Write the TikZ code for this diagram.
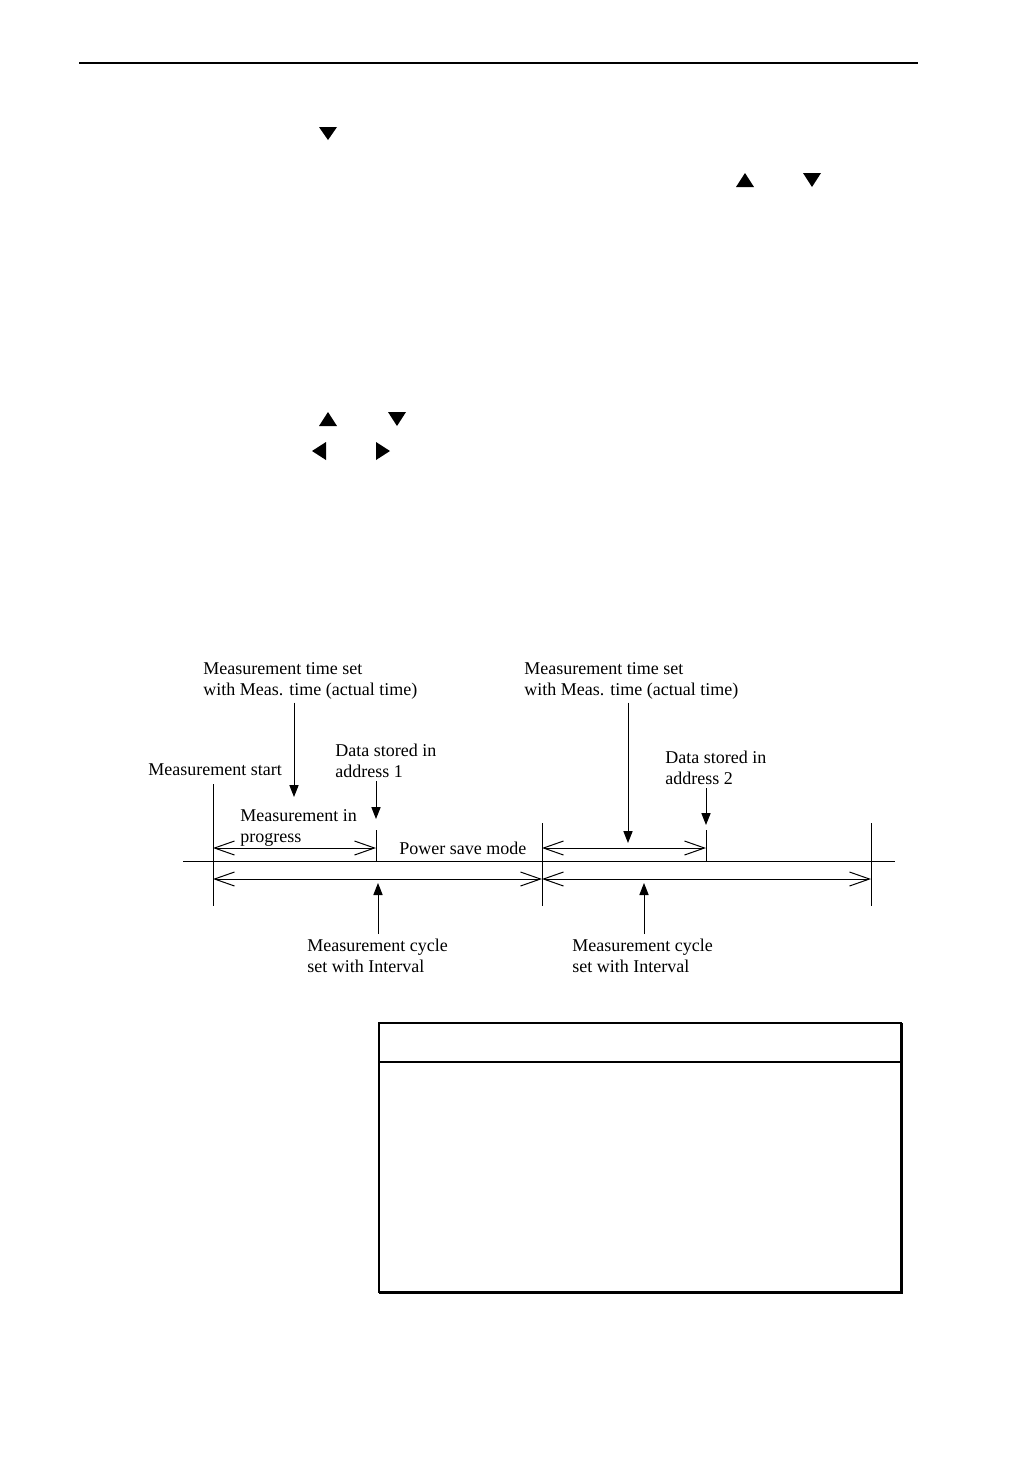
\documentclass[tikz,border=0pt]{standalone}
\usepackage{fontspec}
\setmainfont{Liberation Serif}
\usetikzlibrary{arrows.meta}

\tikzset{
  lbl/.style={anchor=north west, inner sep=0pt, align=left, font=\fontsize{9}{10.5}\selectfont},
  pointer/.style={-{Triangle[length=6pt,width=4.6pt]}, line width=0.5pt},
  span/.style={{Straight Barb[length=10pt,width=7pt]}-{Straight Barb[length=10pt,width=7pt]}, line width=0.5pt},
  thinline/.style={line width=0.5pt},
}

\begin{document}
\begin{tikzpicture}[x=0.5pt,y=-0.5pt]
\useasboundingbox (0,0) rectangle (1032,1458);

% kopregel
\draw[line width=1pt] (79,63) -- (918,63);

% toetssymbolen
\fill (328,133) ++(-9,-6) -- ++(18,0) -- ++(-9,13) -- cycle;
\fill (745,180) ++(-9,7) -- ++(18,0) -- ++(-9,-14) -- cycle;
\fill (812,180) ++(-9,-7) -- ++(18,0) -- ++(-9,14) -- cycle;
\fill (328,419) ++(-9,7) -- ++(18,0) -- ++(-9,-14) -- cycle;
\fill (397,419) ++(-9,-7) -- ++(18,0) -- ++(-9,14) -- cycle;
\fill (319,451) ++(7,-9) -- ++(0,18) -- ++(-14,-9) -- cycle;
\fill (383,451) ++(-7,-9) -- ++(0,18) -- ++(14,-9) -- cycle;

% tijdas
\coordinate (axL) at (183,861);
\coordinate (axR) at (895,861);
\draw[thinline] (axL) -- (axR);

% cyclusgrenzen
\coordinate (s0top) at (213,784);
\coordinate (s0bot) at (213,906);
\coordinate (s1top) at (542,823);
\coordinate (s1bot) at (542,906);
\coordinate (s2top) at (871,823);
\coordinate (s2bot) at (871,906);
\draw[thinline] (s0top) -- (s0bot);
\draw[thinline] (s1top) -- (s1bot);
\draw[thinline] (s2top) -- (s2bot);

% einde meting
\coordinate (m1top) at (376,830);
\coordinate (m1bot) at (376,861);
\coordinate (m2top) at (706,830);
\coordinate (m2bot) at (706,861);
\draw[thinline] (m1top) -- (m1bot);
\draw[thinline] (m2top) -- (m2bot);

% meettijd en interval
\draw[span] (213,848) -- (376,848);
\draw[span] (542,848) -- (706,848);
\draw[span] (213,879) -- (542,879);
\draw[span] (542,879) -- (871,879);

% teksten
\node[lbl] (meastime1) at (203,662) {Measurement time set\\with Meas. time (actual time)};
\node[lbl] (meastime2) at (524,662) {Measurement time set\\with Meas. time (actual time)};
\node[lbl] (stored1) at (335,744) {Data stored in\\address 1};
\node[lbl] (stored2) at (665,751) {Data stored in\\address 2};
\node[lbl] (start) at (148,763) {Measurement start};
\node[lbl] (inprog) at (240,809) {Measurement in\\progress};
\node[lbl] (powersave) at (399,842) {Power save mode};
\node[lbl] (cycle1) at (307,939) {Measurement cycle\\set with Interval};
\node[lbl] (cycle2) at (572,939) {Measurement cycle\\set with Interval};

% wijzers
\coordinate (t1tip) at (294,797);
\coordinate (d1tip) at (376,819);
\coordinate (t2tip) at (628,843);
\coordinate (d2tip) at (706,825);
\coordinate (c1tip) at (378,883);
\coordinate (c2tip) at (644,883);
\draw[pointer] (meastime1.south -| t1tip) ++(0,3) -- (t1tip);
\draw[pointer] (stored1.south -| d1tip) ++(0,3) -- (d1tip);
\draw[pointer] (meastime2.south -| t2tip) ++(0,3) -- (t2tip);
\draw[pointer] (stored2.south -| d2tip) ++(0,3) -- (d2tip);
\draw[pointer] (cycle1.north -| c1tip) ++(0,-5) -- (c1tip);
\draw[pointer] (cycle2.north -| c2tip) ++(0,-5) -- (c2tip);

% kader
\draw[line width=1pt] (379,1023) rectangle (901,1292);
\draw[line width=1pt] (379,1062) -- (901,1062);
\draw[line width=1.5pt] (901,1023) -- (901,1292) -- (379,1292);
\end{tikzpicture}
\end{document}
